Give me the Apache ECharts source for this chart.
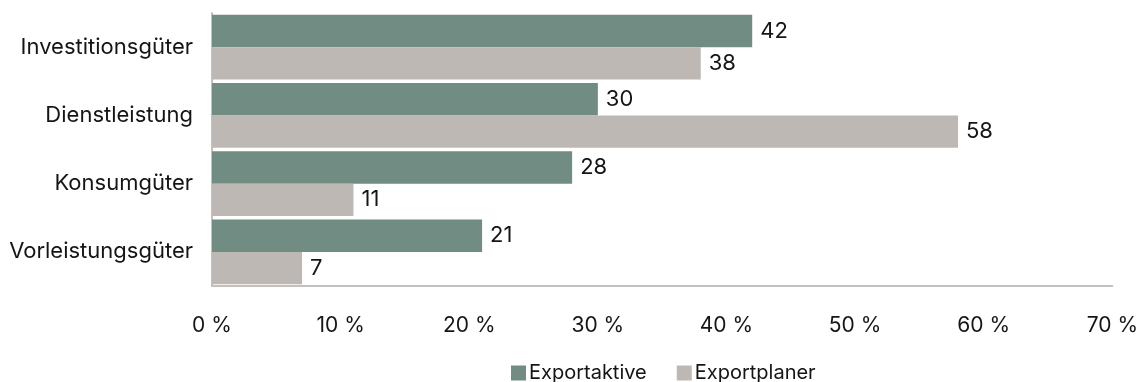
<!DOCTYPE html>
<html>
<head>
<meta charset="utf-8">
<script src="https://cdn.jsdelivr.net/npm/echarts@6/dist/echarts.min.js"></script>
<style>
  html, body { margin: 0; padding: 0; background: #fff; }
  #chart { width: 1141px; height: 382px; }
</style>
</head>
<body>
<div id="chart"></div>
<script>
// Produktgruppen (Anteil in %)
const categories = ['Investitionsgüter', 'Dienstleistung', 'Konsumgüter', 'Vorleistungsgüter'];
const exportaktive = [42, 30, 28, 21];
const exportplaner = [38, 58, 11, 7];
const seriesNames = ['Exportaktive', 'Exportplaner'];

const FONT = 'Inter';
const GREEN = '#718c82';
const GREY = '#bdb8b4';
const AXIS = '#c4c0bc';
const TEXT = '#151515';

const chart = echarts.init(document.getElementById('chart'), null, { renderer: 'canvas' });

const labelStyle = {
  show: true,
  position: 'right',
  distance: 8,
  color: TEXT,
  fontFamily: FONT,
  fontSize: 22
};

chart.setOption({
  animation: false,
  textStyle: { fontFamily: FONT },
  grid: { left: 212, right: 28, top: 13, bottom: 96, containLabel: false },
  xAxis: {
    type: 'value',
    min: 0,
    max: 70,
    interval: 10,
    axisLine: { show: true, lineStyle: { color: AXIS, width: 2 } },
    axisTick: { show: false },
    splitLine: { show: false },
    axisLabel: {
      formatter: '{value} %',
      color: TEXT,
      fontFamily: FONT,
      fontSize: 21,
      margin: 29
    }
  },
  yAxis: {
    type: 'category',
    data: categories,
    inverse: true,
    axisLine: { show: true, lineStyle: { color: AXIS, width: 2 } },
    axisTick: { show: false },
    axisLabel: {
      color: TEXT,
      fontFamily: FONT,
      fontSize: 22,
      margin: 19
    }
  },
  legend: {
    data: seriesNames,
    left: 506,
    top: 358,
    itemWidth: 15,
    itemHeight: 15,
    itemGap: 30,
    icon: 'rect',
    textStyle: { color: TEXT, fontFamily: FONT, fontSize: 20, padding: [0, 0, 0, -2] }
  },
  series: [
    {
      name: seriesNames[0],
      type: 'bar',
      data: exportaktive,
      barGap: '0%',
      barCategoryGap: '5%',
      itemStyle: { color: GREEN },
      label: labelStyle
    },
    {
      name: seriesNames[1],
      type: 'bar',
      data: exportplaner,
      itemStyle: { color: GREY },
      label: labelStyle
    }
  ]
});
</script>
</body>
</html>
